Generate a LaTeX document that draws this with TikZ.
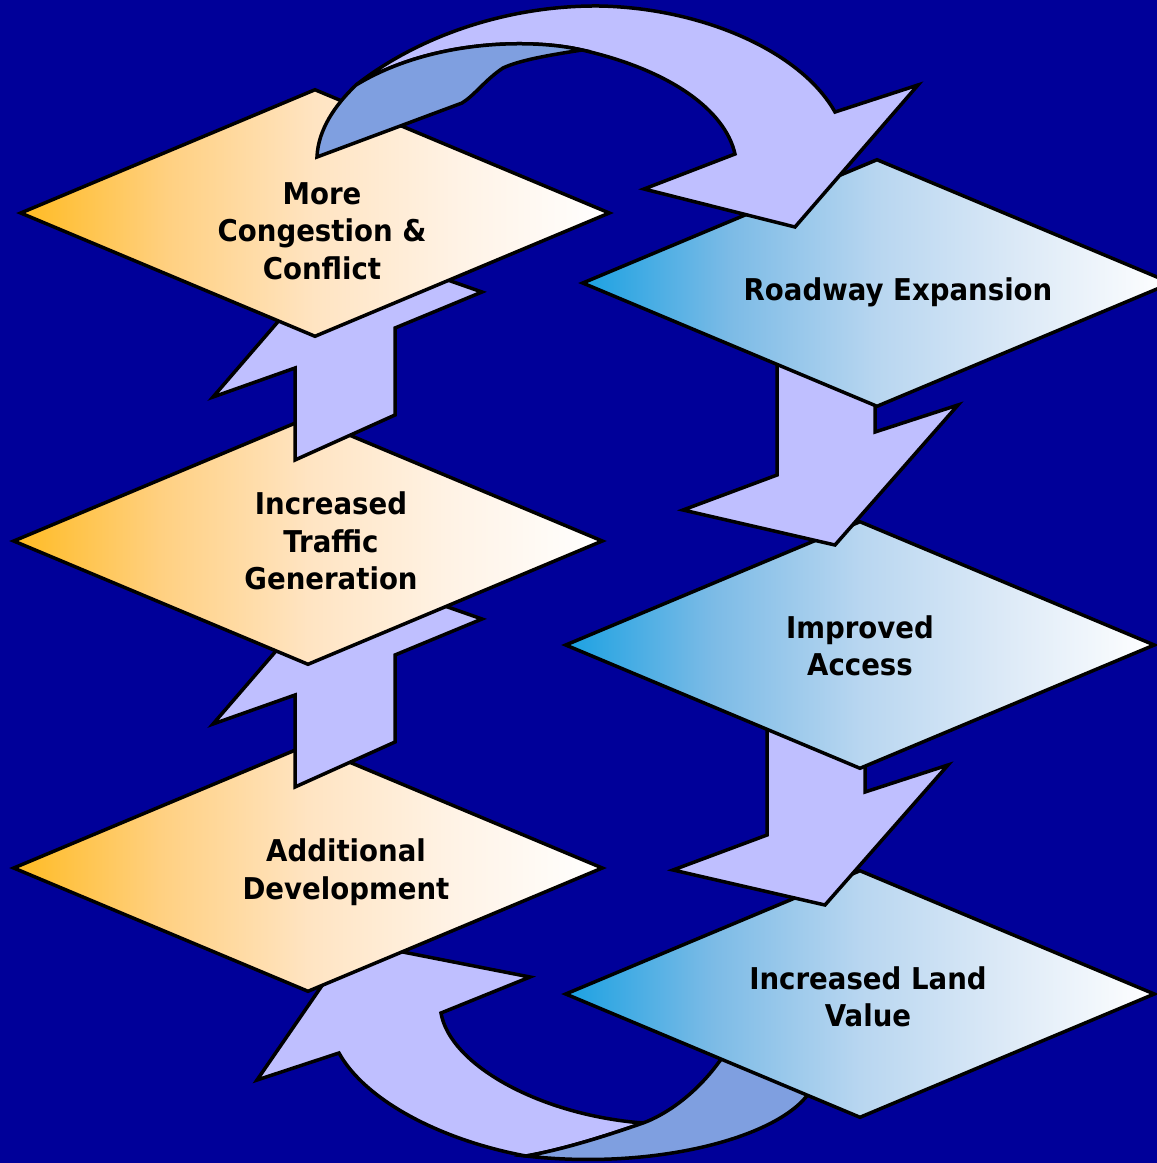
\documentclass[tikz,border=0pt]{standalone}
\usepackage{fontspec}
\setmainfont{DejaVu Sans}[FakeStretch=0.92]
\usetikzlibrary{shapes.geometric}
\definecolor{bgblue}{HTML}{000099}
\definecolor{arrowlight}{HTML}{BFBFFF}
\definecolor{arrowdark}{HTML}{7F9FE0}
\definecolor{warmL}{HTML}{FFBB22}
\definecolor{warmA}{HTML}{FFD081}
\definecolor{warmB}{HTML}{FFE4C2}
\definecolor{warmC}{HTML}{FFF3E6}
\definecolor{coolL}{HTML}{1BA1E2}
\definecolor{coolA}{HTML}{7CBBE6}
\definecolor{coolB}{HTML}{B8D6F0}
\definecolor{coolC}{HTML}{DDEAF7}
\pgfdeclarehorizontalshading{warmfade}{100bp}{color(0bp)=(warmL); color(25bp)=(warmL); color(37.5bp)=(warmA); color(50bp)=(warmB); color(62.5bp)=(warmC); color(75bp)=(white); color(100bp)=(white)}
\pgfdeclarehorizontalshading{coolfade}{100bp}{color(0bp)=(coolL); color(25bp)=(coolL); color(37.5bp)=(coolA); color(50bp)=(coolB); color(62.5bp)=(coolC); color(75bp)=(white); color(100bp)=(white)}

\begin{document}
\begin{tikzpicture}[x=1pt, y=-1pt,
	panel/.style={diamond, draw, line width=3.5pt, minimum width=590pt, minimum height=248pt, inner sep=0pt, shape aspect=2.38},
	warm/.style={panel, shading=warmfade},
	cool/.style={panel, shading=coolfade},
	lbl/.style={align=center, font=\fontsize{30}{37.5}\selectfont\bfseries},
	blockarrow/.style={draw, line width=3.5pt, fill=arrowlight},
	uparrow/.pic={\draw[blockarrow] (-13,-81) -- (87,-126) -- (87,-213) -- (174,-249) -- (37,-297) -- (-95,-144) -- (-13,-173) -- cycle;},
	downarrow/.pic={\draw[blockarrow] (-83,-305) -- (-83,-170) -- (-177,-135) -- (-25,-100) -- (98,-240) -- (15,-213) -- (15,-315) -- cycle;}]
	\useasboundingbox (0,0) rectangle (1157,1163);
	\clip (0,0) rectangle (1157,1163);
	\fill[bgblue] (0,0) rectangle (1157,1163);

	% curved arrow at the bottom, behind the lowest diamonds
	\draw[blockarrow] (530,977) -- (441,1013) .. controls (450,1065) and (540,1115) .. (643,1123) .. controls (600,1138) and (560,1150) .. (526,1156) .. controls (440,1140) and (365,1100) .. (339,1053) -- (257,1080) -- (352,942) -- cycle;
	\draw[blockarrow, fill=arrowdark] (643,1123) .. controls (665,1115) and (695,1095) .. (719,1062) -- (745,1030) -- (830,1060) -- (806,1097) .. controls (770,1140) and (650,1170) .. (526,1156) .. controls (560,1150) and (600,1138) .. (643,1123) -- cycle;

	\node[warm] (dev) at (308,868) {};
	\node[cool] (land) at (860,994) {};
	\pic at (dev) {uparrow};
	\pic at ([shift={(-10,11)}]land) {downarrow};

	\node[warm] (traf) at (308,541) {};
	\node[cool] (acc) at (860,645) {};
	\pic at (traf) {uparrow};
	\pic at (acc) {downarrow};

	\node[warm] (cong) at (315,213) {};
	\node[cool] (road) at (877,283) {};

	% curved arrow at the top, in front of everything
	\draw[blockarrow] (356,85) .. controls (420,35) and (510,5) .. (600,6) .. controls (700,8) and (800,50) .. (835,112) -- (918,85) -- (795,227) -- (644,189) -- (735,154) .. controls (725,110) and (670,70) .. (582,50) .. controls (530,38) and (430,40) .. (356,85) -- cycle;
	\draw[blockarrow, fill=arrowdark] (317,157) .. controls (318,130) and (335,105) .. (356,85) .. controls (430,40) and (530,38) .. (582,50) .. controls (550,55) and (520,60) .. (503,68) .. controls (485,80) and (475,95) .. (462,103) -- cycle;

	\node[lbl] (congtext) at ([shift={(7,18)}]cong) {More\\Congestion \&\\Conflict};
	\node[lbl] (roadtext) at ([shift={(21,9)}]road) {Roadway Expansion};
	\node[lbl] (traftext) at ([shift={(23,0)}]traf) {Increased\\Traffic\\Generation};
	\node[lbl] (acctext) at ([shift={(0,1)}]acc) {Improved\\Access};
	\node[lbl] (devtext) at ([shift={(38,4)}]dev) {Additional\\Development};
	\node[lbl] (landtext) at ([shift={(8,3)}]land) {Increased Land\\Value};
\end{tikzpicture}
\end{document}
